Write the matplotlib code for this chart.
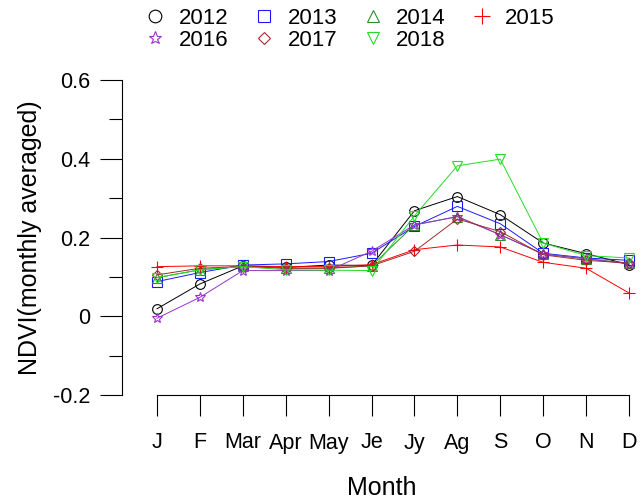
import matplotlib
matplotlib.use("Agg")
import matplotlib.pyplot as plt

plt.rcParams['font.family'] = ['Liberation Sans', 'DejaVu Sans']

months = ["J", "F", "Mar", "Apr", "May", "Je", "Jy", "Ag", "S", "O", "N", "D"]
years = ["2012", "2013", "2014", "2015", "2016", "2017", "2018"]

ndvi_2012 = [0.019, 0.082, 0.128, 0.124, 0.130, 0.129, 0.268, 0.304, 0.258, 0.186, 0.159, 0.131]
ndvi_2013 = [0.088, 0.111, 0.130, 0.133, 0.139, 0.160, 0.228, 0.279, 0.235, 0.160, 0.148, 0.142]
ndvi_2014 = [0.098, 0.118, 0.127, 0.122, 0.122, 0.128, 0.232, 0.253, 0.207, 0.158, 0.146, 0.135]
ndvi_2015 = [0.126, 0.128, 0.128, 0.126, 0.126, 0.131, 0.169, 0.181, 0.176, 0.137, 0.122, 0.059]
ndvi_2016 = [-0.005, 0.048, 0.116, 0.116, 0.116, 0.165, 0.232, 0.253, 0.207, 0.158, 0.146, 0.133]
ndvi_2017 = [0.105, 0.122, 0.126, 0.122, 0.122, 0.128, 0.165, 0.247, 0.215, 0.156, 0.142, 0.135]
ndvi_2018 = [0.098, 0.118, 0.126, 0.118, 0.117, 0.116, 0.255, 0.382, 0.399, 0.186, 0.154, 0.148]

series = [ndvi_2012, ndvi_2013, ndvi_2014, ndvi_2015, ndvi_2016, ndvi_2017, ndvi_2018]
colors = ["#000000", "#1a1aff", "#2e8b2e", "#ff0000", "#9932cc", "#a52a2a", "#22dd22"]
markers = ["o", "s", "^", "+", "*", "D", "v"]
msizes = [7.0, 7.0, 6.5, 8.5, 7.5, 5.0, 7.0]

fig = plt.figure(figsize=(6.44, 5.01), dpi=100)
W, H = 644, 501
left_px, right_px, top_px, bot_px = 122, 640, 80, 395
ax = fig.add_axes([left_px / W, 1 - bot_px / H, (right_px - left_px) / W, (bot_px - top_px) / H])

x = list(range(len(months)))
handles = []
for vals, c, m, ms, yr in zip(series, colors, markers, msizes, years):
    h, = ax.plot(x, vals, color=c, lw=0.7, marker=m, markersize=ms,
                 markerfacecolor="none", markeredgecolor=c, markeredgewidth=0.8,
                 label=yr)
    handles.append(h)

px_per_unit = (629 - 157) / 11
ax.set_xlim(-(157 - left_px) / px_per_unit, 11 + (right_px - 629) / px_per_unit)
ax.set_ylim(-0.2, 0.6)

for s in ["top", "right"]:
    ax.spines[s].set_visible(False)
ax.spines["left"].set_bounds(-0.2, 0.6)
ax.spines["bottom"].set_bounds(0, 11)
ax.spines["left"].set_linewidth(0.8)
ax.spines["bottom"].set_linewidth(0.8)

ax.set_xticks(x)
ax.set_xticklabels(months)
ax.set_yticks([-0.2, 0, 0.2, 0.4, 0.6])
ax.set_yticklabels(["-0.2", "0", "0.2", "0.4", "0.6"])
ax.set_yticks([-0.1, 0.1, 0.3, 0.5], minor=True)
ax.tick_params(axis="x", length=15, width=0.8, pad=12, labelsize=15.5)
ax.tick_params(axis="y", which="major", length=16, width=0.8, pad=7, labelsize=15.5)
ax.tick_params(axis="y", which="minor", length=9.5, width=0.8)

fig.text(382 / W, 1 - 488 / H, "Month", ha="center", va="center", fontsize=18)
fig.text(30 / W, 1 - 238 / H, "NDVI(monthly averaged)", ha="center", va="center",
         rotation=90, fontsize=18)

order = [0, 4, 1, 5, 2, 6, 3]
leg_h = [handles[i] for i in order]
leg_l = [years[i] for i in order]
leg = fig.legend(leg_h, leg_l, ncol=4, loc="upper left",
                 bbox_to_anchor=(144 / W, 1 - 8 / H), frameon=False,
                 fontsize=16, handlelength=1.0, handletextpad=0.55,
                 columnspacing=1.12, labelspacing=0.05, borderpad=0, borderaxespad=0)
for lh in leg.legend_handles:
    lh.set_linestyle("none")
    lh.set_markersize(lh.get_markersize() * 1.3)
    lh.set_markeredgewidth(0.8)

fig.savefig("out.png", dpi=100)
